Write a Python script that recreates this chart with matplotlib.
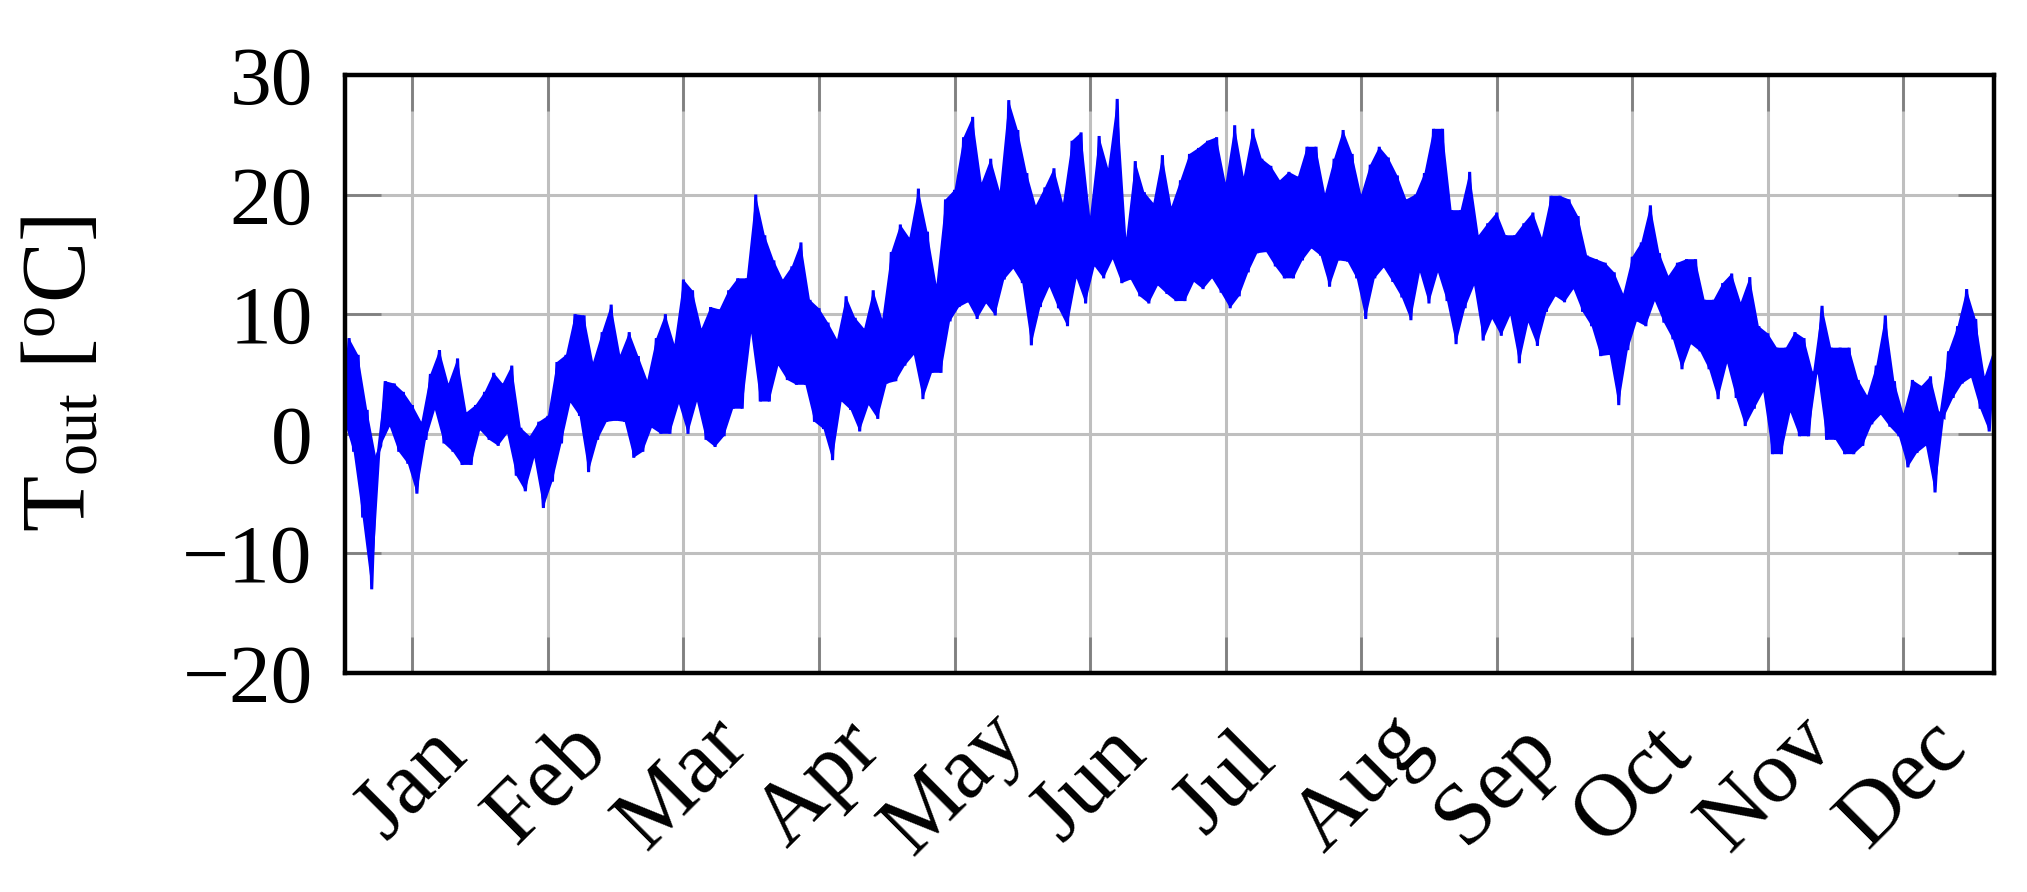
import numpy as np
import matplotlib
matplotlib.use('Agg')
import matplotlib.pyplot as plt

# ---- data (2-day windows: daily low / high, degC) ----
months = ['Jan', 'Feb', 'Mar', 'Apr', 'May', 'Jun',
          'Jul', 'Aug', 'Sep', 'Oct', 'Nov', 'Dec']
month_tick_hours = [360, 1080, 1800, 2520, 3240, 3960,
                    4680, 5400, 6120, 6840, 7560, 8280]
y_ticks = [-20, -10, 0, 10, 20, 30]

window_start_day = list(range(0, 366, 2))  # 183 windows

t_high = [
    # days 0-60
    8.0, 6.6, 2.0, -2.0, 4.4, 4.2, 3.5, 2.4, 1.0, 5.0, 7.0, 4.2, 6.3, 1.8, 2.4, 3.5,
    5.1, 4.2, 5.7, 0.5, -0.2, 1.0, 1.5, 6.0, 6.6, 10.0, 9.9, 6.0, 8.5, 10.8, 6.6,
    # days 62-120
    8.5, 6.5, 4.5, 8.0, 10.0, 7.5, 12.9, 12.0, 8.8, 10.6, 10.4, 12.0, 13.0, 13.0, 20.0,
    16.6, 14.5, 12.9, 14.0, 16.0, 11.2, 10.5, 9.3, 7.9, 11.5, 9.7, 8.8, 12.0, 9.6, 15.2,
    # days 122-182
    17.5, 16.4, 20.5, 16.9, 12.5, 19.6, 20.4, 24.8, 26.5, 21.0, 23.0, 20.3, 27.9, 25.4, 21.8,
    19.1, 20.6, 22.2, 19.3, 24.5, 25.2, 18.2, 24.9, 22.2, 28.0, 16.4, 22.8, 20.2, 19.3, 23.3, 19.0,
    # days 184-242
    21.2, 23.4, 23.9, 24.5, 24.8, 21.0, 25.8, 21.5, 25.5, 23.0, 22.4, 21.2, 21.9, 21.5, 24.0,
    24.0, 20.1, 23.0, 25.4, 23.4, 20.0, 22.5, 24.0, 23.1, 21.6, 19.6, 20.0, 21.8, 25.5, 25.5,
    # days 244-304
    18.7, 18.7, 21.9, 16.6, 17.6, 18.5, 16.6, 16.6, 17.6, 18.5, 16.4, 19.9, 19.9, 19.6, 18.2,
    14.9, 14.6, 14.3, 13.5, 11.7, 14.8, 16.0, 19.1, 15.1, 13.2, 14.3, 14.6, 14.6, 11.2, 11.2, 12.6,
    # days 306-364
    13.4, 11.0, 13.1, 9.0, 8.4, 7.2, 7.2, 8.5, 8.0, 5.1, 10.7, 7.2, 7.2, 7.2, 4.5,
    3.2, 5.7, 9.9, 4.4, 1.7, 4.5, 4.0, 4.8, 1.7, 6.9, 9.0, 12.1, 9.6, 4.8, 7.0,
]

t_low = [
    # days 0-60
    1.0, -1.5, -7.0, -13.0, -1.0, 0.6, -1.5, -2.5, -5.0, -0.5, 2.0, -0.8, -1.5, -2.6, -2.6, 0.3,
    -0.5, -1.0, 0.0, -3.5, -4.8, -2.0, -6.2, -4.0, -0.8, 2.6, 1.5, -3.2, -0.5, 1.0, 1.1,
    # days 62-120
    1.0, -2.0, -1.5, 0.5, 0.0, 0.0, 2.5, 0.0, 2.7, -0.5, -1.1, -0.2, 2.1, 2.1, 8.4,
    2.7, 2.7, 5.7, 4.5, 4.1, 4.1, 1.0, 0.4, -2.2, 2.7, 2.0, 0.2, 2.4, 1.25, 4.2,
    # days 122-182
    4.4, 5.7, 6.6, 2.9, 5.1, 5.1, 9.4, 10.6, 11.0, 9.6, 10.9, 9.9, 12.9, 13.8, 12.6,
    7.4, 10.6, 12.3, 10.5, 9.0, 13.0, 10.9, 14.0, 13.0, 14.6, 12.6, 12.9, 11.5, 10.9, 12.4, 11.7,
    # days 184-242
    11.1, 11.1, 12.7, 12.1, 13.0, 11.8, 10.5, 11.5, 13.5, 15.1, 15.2, 14.0, 13.0, 13.0, 14.5,
    15.5, 14.9, 12.3, 14.5, 14.4, 13.0, 9.6, 13.0, 13.9, 12.7, 11.4, 9.5, 13.5, 10.9, 13.5,
    # days 244-304
    11.1, 7.5, 10.5, 12.4, 7.8, 9.6, 8.2, 9.9, 5.9, 9.3, 7.35, 10.2, 11.5, 11.0, 12.1,
    10.2, 9.0, 6.5, 6.6, 2.4, 7.0, 9.4, 9.0, 11.1, 9.3, 7.9, 5.4, 7.5, 6.9, 5.4, 2.9,
    # days 306-364
    5.9, 3.0, 0.65, 2.1, 3.5, -1.7, -1.7, 1.8, -0.2, -0.2, 5.1, -0.5, -0.5, -1.7, -1.7,
    -1.0, 0.8, 1.6, 0.6, -0.2, -2.8, -1.6, -1.0, -4.9, 1.4, 3.0, 4.2, 4.7, 2.1, 0.2,
]

# ---- figure ----
plt.rcParams['font.family'] = ['Liberation Serif', 'DejaVu Serif']
plt.rcParams['mathtext.fontset'] = 'custom'
plt.rcParams['mathtext.rm'] = 'Liberation Serif'
plt.rcParams['mathtext.it'] = 'Liberation Serif:italic'

fig = plt.figure(figsize=(20.27, 8.92), dpi=100)
ax = fig.add_axes([0.1700, 0.2455, 0.8136, 0.6704])

start_h = np.asarray(window_start_day, dtype=float) * 24.0
x_low = start_h
x_high = start_h + 24.0
lo = np.asarray(t_low, dtype=float)
hi = np.asarray(t_high, dtype=float)

# the dense hourly trace: filled band between daily lows and highs
ax.fill(np.concatenate([x_high, x_low[::-1]]),
        np.concatenate([hi, lo[::-1]]),
        color='#0000ff', lw=0, zorder=3)
# and the trace itself, swinging between lows and highs
n = len(start_h)
x = np.empty(2 * n)
y = np.empty(2 * n)
x[0::2] = x_low
x[1::2] = x_high
y[0::2] = lo
y[1::2] = hi
ax.plot(x, y, color='#0000ff', lw=2.2, solid_joinstyle='miter', zorder=3)

ax.set_xlim(0, 8760)
ax.set_ylim(-20, 30)
ax.set_xticks(month_tick_hours)
ax.set_xticklabels(months, rotation=45, ha='center', va='center',
                   rotation_mode='anchor', fontsize=64)
ax.set_yticks(y_ticks)

ax.grid(True, color='#bfbfbf', lw=2.2)
ax.set_axisbelow(True)
ax.tick_params(direction='in', length=26, width=2, color='#808080',
               top=True, right=True)
ax.tick_params(axis='y', pad=23, labelsize=60)
ax.tick_params(axis='x', pad=80)
for s in ax.spines.values():
    s.set_linewidth(3.2)
    s.set_zorder(5)

ax.set_ylabel(r'T$_{\mathrm{out}}$ [$^{\mathrm{o}}$C]', fontsize=66)
ax.yaxis.set_label_coords(-0.146, 0.5)

fig.savefig('out.png', dpi=100)
